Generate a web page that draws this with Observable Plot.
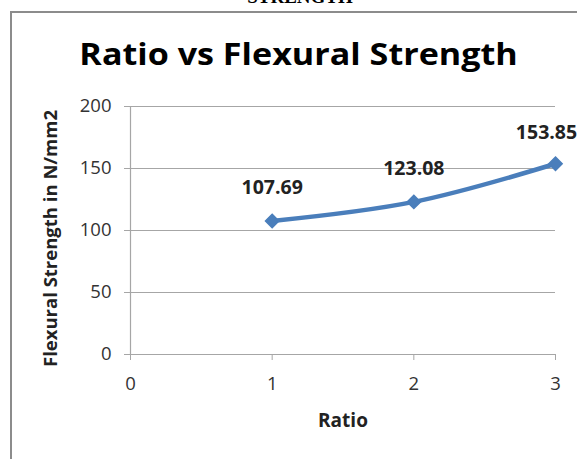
<!DOCTYPE html>
<html><head><meta charset="utf-8">
<script src="https://cdn.jsdelivr.net/npm/d3@7"></script>
<script src="https://cdn.jsdelivr.net/npm/@observablehq/plot@0.6"></script>
<style>
body{margin:0;background:#fff;}
#wrap{position:relative;width:577px;height:459px;overflow:hidden;background:#fff;}
#frame{position:absolute;left:10px;top:11px;width:600px;height:500px;border:2px solid #8c8c8c;box-sizing:border-box;}
#top{position:absolute;left:0;width:600px;text-align:center;top:-14px;font:bold 19px "Liberation Serif",serif;color:#000;}
#title{position:absolute;left:0;width:597px;text-align:center;top:32px;font:bold 31px "Open Sans",sans-serif;color:#000;transform:scaleX(1.1);transform-origin:298px 0;}
#chart{position:absolute;left:0;top:0;}
</style></head>
<body><div id="wrap"><div id="top">STRENGTH</div><div id="frame"></div><div id="title">Ratio vs Flexural Strength</div><div id="chart"></div></div>
<script>
const ratios = [1, 2, 3];
const strengths = [107.69, 123.08, 153.85];
const labels = ["107.69", "123.08", "153.85"];
const xTicks = [0, 1, 2, 3];
const yTicks = [0, 50, 100, 150, 200];
const xTitle = "Ratio";
const yTitle = "Flexural Strength in N/mm2";

const data = ratios.map((r, i) => ({x: r, y: strengths[i], label: labels[i]}));
const grid = "#a6a6a6";
const blue = "#4a7ebb";

const chart = Plot.plot({
  width: 577, height: 459,
  marginLeft: 130, marginRight: 22, marginTop: 106, marginBottom: 105,
  style: {fontFamily: "'Open Sans', sans-serif", background: "transparent", overflow: "visible"},
  x: {domain: [0, 3]},
  y: {domain: [0, 200]},
  marks: [
    Plot.ruleY(yTicks.filter(d => d > 0), {x1: 0, x2: 3, stroke: grid, strokeWidth: 1.2}),
    Plot.ruleX([0], {stroke: grid, strokeWidth: 1.2}),
    Plot.ruleY([0], {stroke: grid, strokeWidth: 1.2}),
    Plot.axisX({ticks: xTicks, tickSize: 6, tickPadding: 16, stroke: grid, fontSize: 18.5, color: "#333", label: null, tickFormat: d => String(d)}),
    Plot.axisY({ticks: yTicks, tickSize: 6, tickPadding: 13, stroke: grid, fontSize: 18.5, color: "#333", label: null}),
    Plot.text([xTitle], {frameAnchor: "bottom", dy: 72, fontSize: 19, fontWeight: "bold", fill: "#222"}),
    Plot.text([yTitle], {frameAnchor: "left", textAnchor: "middle", rotate: -90, dx: -79, dy: 8, fontSize: 18.5, fontWeight: "bold", fill: "#222"}),
    Plot.line(data, {x: "x", y: "y", stroke: blue, strokeWidth: 4.5, curve: "catmull-rom"}),
    Plot.dot(data, {x: "x", y: "y", symbol: "diamond2", r: 6, fill: blue, stroke: blue}),
    Plot.text(data.slice(0, 2), {x: "x", y: "y", text: "label", dy: -33, fontSize: 19.5, fontWeight: "bold", fill: "#222"}),
    Plot.text(data.slice(2), {x: "x", y: "y", text: "label", dy: -31, dx: -9, fontSize: 19.5, fontWeight: "bold", fill: "#222"})
  ]
});
document.getElementById("chart").appendChild(chart);
</script></body></html>
